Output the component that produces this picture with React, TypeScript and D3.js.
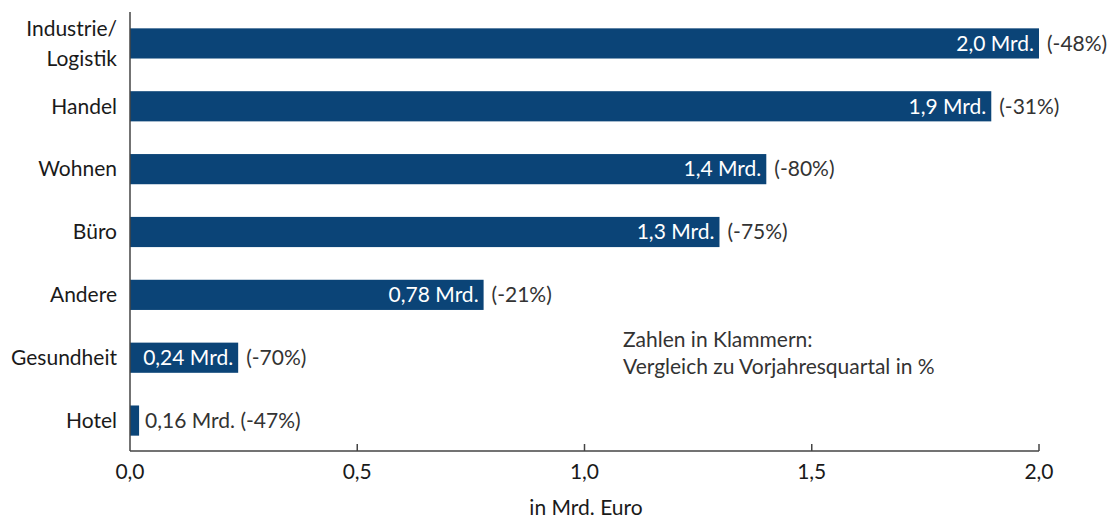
import React, { useEffect, useRef } from "react";
import * as d3 from "d3";

const categories: string[][] = [
  ["Industrie/", "Logistik"],
  ["Handel"],
  ["Wohnen"],
  ["Büro"],
  ["Andere"],
  ["Gesundheit"],
  ["Hotel"],
];
// bar lengths as drawn in the picture (Hotel bar is drawn very short)
const values = [2.0, 1.895, 1.4, 1.297, 0.778, 0.238, 0.02];
const valueLabels = ["2,0 Mrd.", "1,9 Mrd.", "1,4 Mrd.", "1,3 Mrd.", "0,78 Mrd.", "0,24 Mrd.", "0,16 Mrd."];
const changeLabels = ["(-48%)", "(-31%)", "(-80%)", "(-75%)", "(-21%)", "(-70%)", "(-47%)"];
const labelInside = [true, true, true, true, true, true, false];
const xTicks = [0, 0.5, 1.0, 1.5, 2.0];

const width = 1119;
const height = 519;
const marginLeft = 130;
const marginRight = 80;
const marginTop = 12;
const axisY = 451;

const barColor = "#0b4477";
const font = "Lato, 'Noto Sans', sans-serif";
const fs = 21;

export default function App() {
  const ref = useRef<SVGSVGElement | null>(null);

  useEffect(() => {
    const svg = d3.select(ref.current);
    svg.selectAll("*").remove();

    const x = d3.scaleLinear().domain([0, 2]).range([marginLeft, width - marginRight]);
    const y = d3
      .scaleBand<number>()
      .domain(d3.range(categories.length))
      .range([marginTop, axisY + 1])
      .paddingInner(0.52)
      .paddingOuter(0.26);

    // bars
    svg
      .append("g")
      .selectAll("rect")
      .data(values)
      .join("rect")
      .attr("x", x(0))
      .attr("y", (_, i) => y(i)!)
      .attr("width", (d) => x(d) - x(0))
      .attr("height", y.bandwidth())
      .attr("fill", barColor);

    // category labels
    const cat = svg
      .append("g")
      .attr("font-family", font)
      .attr("font-size", fs)
      .attr("fill", "#1a1a1a")
      .attr("text-anchor", "end");
    categories.forEach((lines, i) => {
      const cy = y(i)! + y.bandwidth() / 2;
      const t = cat.append("text").attr("x", 117);
      lines.forEach((l, j) => {
        t.append("tspan")
          .attr("x", 117)
          .attr("y", cy + (j - (lines.length - 1) / 2) * 30)
          .attr("dy", "0.35em")
          .text(l);
      });
    });

    // value labels
    const lab = svg.append("g").attr("font-family", font).attr("font-size", fs);
    values.forEach((v, i) => {
      const cy = y(i)! + y.bandwidth() / 2;
      const end = x(v);
      if (labelInside[i]) {
        lab
          .append("text")
          .attr("x", end - 5)
          .attr("y", cy)
          .attr("dy", "0.35em")
          .attr("text-anchor", "end")
          .attr("fill", "#ffffff")
          .text(valueLabels[i]);
        lab
          .append("text")
          .attr("x", end + 8)
          .attr("y", cy)
          .attr("dy", "0.35em")
          .attr("fill", "#333")
          .text(changeLabels[i]);
      } else {
        lab
          .append("text")
          .attr("x", end + 6)
          .attr("y", cy)
          .attr("dy", "0.35em")
          .attr("fill", "#333")
          .text(`${valueLabels[i]} ${changeLabels[i]}`);
      }
    });

    // axes lines
    svg
      .append("line")
      .attr("x1", x(0))
      .attr("x2", x(0))
      .attr("y1", marginTop)
      .attr("y2", axisY)
      .attr("stroke", "#444")
      .attr("stroke-width", 1.5);
    svg
      .append("line")
      .attr("x1", x(0))
      .attr("x2", x(2))
      .attr("y1", axisY)
      .attr("y2", axisY)
      .attr("stroke", "#444")
      .attr("stroke-width", 1.5);

    const ticks = svg.append("g").attr("font-family", font).attr("font-size", fs).attr("fill", "#1a1a1a");
    xTicks.forEach((t) => {
      if (t > 0) {
        ticks
          .append("line")
          .attr("x1", x(t))
          .attr("x2", x(t))
          .attr("y1", axisY - 7)
          .attr("y2", axisY)
          .attr("stroke", "#444")
          .attr("stroke-width", 1.5);
      }
      ticks
        .append("text")
        .attr("x", x(t))
        .attr("y", axisY + 28)
        .attr("text-anchor", "middle")
        .text(d3.format(".1f")(t).replace(".", ","));
    });

    svg
      .append("text")
      .attr("x", 586)
      .attr("y", 515)
      .attr("text-anchor", "middle")
      .attr("font-family", font)
      .attr("font-size", fs)
      .attr("fill", "#1a1a1a")
      .text("in Mrd. Euro");

    const note = svg
      .append("text")
      .attr("font-family", font)
      .attr("font-size", fs)
      .attr("fill", "#333");
    note.append("tspan").attr("x", 623).attr("y", 347).text("Zahlen in Klammern:");
    note.append("tspan").attr("x", 623).attr("y", 374).text("Vergleich zu Vorjahresquartal in %");
  }, []);

  return (
    <svg
      ref={ref}
      width={width}
      height={height}
      style={{ position: "absolute", left: 0, top: 0, background: "#fff" }}
    />
  );
}
